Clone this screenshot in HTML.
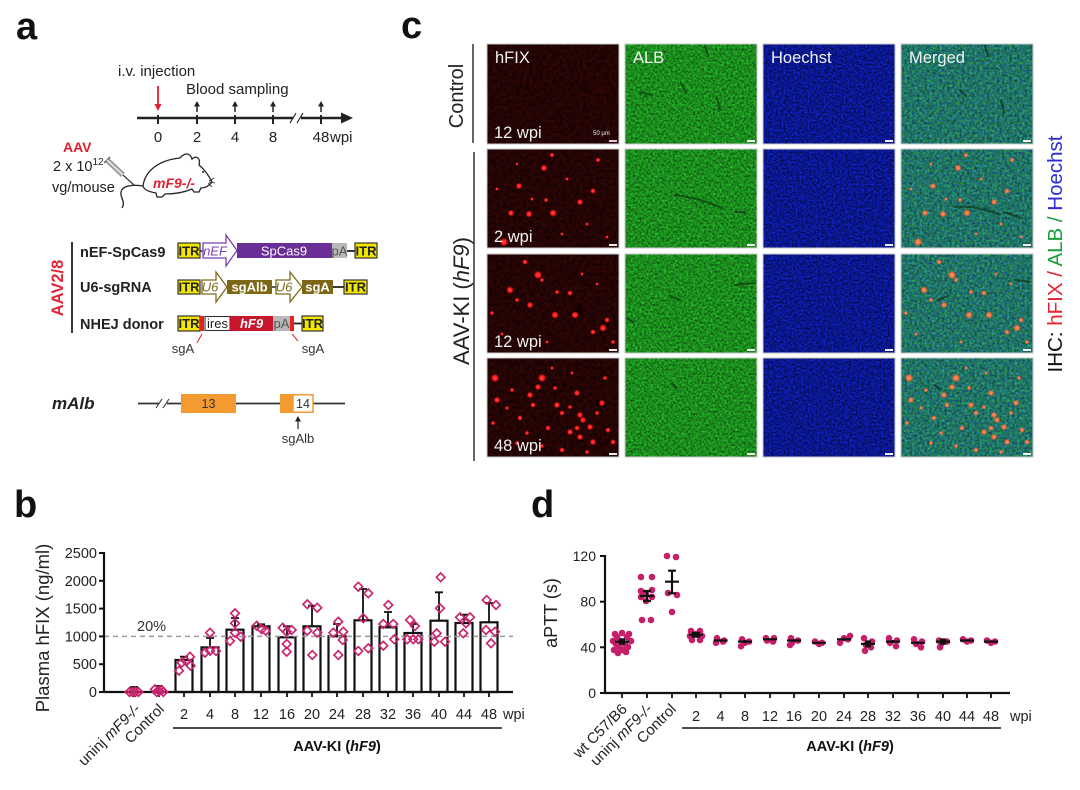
<!DOCTYPE html>
<html><head><meta charset="utf-8"><style>
html,body{margin:0;padding:0;background:#fff;}
svg{display:block;font-family:"Liberation Sans",Arial,sans-serif;}
</style></head><body>
<svg width="1080" height="790" viewBox="0 0 1080 790" xmlns="http://www.w3.org/2000/svg">
<defs>
<filter id="fR" x="0" y="0" width="1" height="1" color-interpolation-filters="sRGB">
<feTurbulence type="fractalNoise" baseFrequency="0.3" numOctaves="2" seed="5"/>
<feColorMatrix type="matrix" values="0.22 0 0 0 0.03  0.03 0 0 0 0  0.03 0 0 0 0  0 0 0 0 1"/>
</filter>
<filter id="fG" x="0" y="0" width="1" height="1" color-interpolation-filters="sRGB">
<feTurbulence type="fractalNoise" baseFrequency="0.45" numOctaves="2" seed="7"/>
<feColorMatrix type="matrix" values="0.15 0 0 0 0.03  0.75 0 0 0 0.17  0.15 0 0 0 0.04  0 0 0 0 1"/>
</filter>
<filter id="fB" x="0" y="0" width="1" height="1" color-interpolation-filters="sRGB">
<feTurbulence type="fractalNoise" baseFrequency="0.5" numOctaves="2" seed="11"/>
<feColorMatrix type="matrix" values="0.08 0 0 0 0  0.18 0 0 0 0  1.0 0 0 0 0.05  0 0 0 0 1"/>
</filter>
<filter id="fM" x="0" y="0" width="1" height="1" color-interpolation-filters="sRGB">
<feTurbulence type="fractalNoise" baseFrequency="0.4" numOctaves="2" seed="13"/>
<feColorMatrix type="matrix" values="0.15 0 0 0 0.05  0.65 0 0 0 0.13  0 0.7 0 0 0.05  0 0 0 0 1"/>
</filter>
<radialGradient id="rs"><stop offset="0" stop-color="#ff4a4a"/><stop offset="0.55" stop-color="#ff1a1a"/><stop offset="1" stop-color="#b00000" stop-opacity="0"/></radialGradient>
<radialGradient id="os"><stop offset="0" stop-color="#ff9a60"/><stop offset="0.55" stop-color="#ee6e40"/><stop offset="1" stop-color="#c05030" stop-opacity="0"/></radialGradient>
<g id="s2">
<circle cx="57" cy="19" r="3.6"/><circle cx="32" cy="37" r="3.4"/><circle cx="106" cy="42" r="3"/><circle cx="93" cy="53" r="3.4"/><circle cx="42" cy="65" r="3.6"/><circle cx="66" cy="64" r="3.9"/><circle cx="24" cy="64" r="3.4"/><circle cx="17" cy="93" r="4.4"/><circle cx="65" cy="6" r="2.6"/><circle cx="111" cy="11" r="2.6"/><circle cx="59" cy="51" r="2.4"/><circle cx="80" cy="30" r="2"/><circle cx="45" cy="50" r="2"/><circle cx="100" cy="75" r="2"/><circle cx="120" cy="88" r="1.9"/><circle cx="10" cy="40" r="1.9"/><circle cx="75" cy="85" r="1.9"/><circle cx="30" cy="15" r="1.8"/>
</g>
<g id="s12">
<circle cx="38" cy="8" r="2.9"/><circle cx="51" cy="21" r="4.4"/><circle cx="23" cy="36" r="3.9"/><circle cx="43" cy="51" r="3.4"/><circle cx="68" cy="61" r="3.9"/><circle cx="88" cy="61" r="3.9"/><circle cx="83" cy="39" r="2.9"/><circle cx="120" cy="66" r="2.9"/><circle cx="116" cy="74" r="3.9"/><circle cx="106" cy="78" r="2.9"/><circle cx="30" cy="46" r="2.4"/><circle cx="5" cy="59" r="2.4"/><circle cx="126" cy="88" r="2.4"/><circle cx="55" cy="26" r="2.4"/><circle cx="70" cy="38" r="2.4"/><circle cx="15" cy="80" r="2"/><circle cx="95" cy="20" r="1.9"/><circle cx="60" cy="88" r="1.9"/><circle cx="110" cy="30" r="1.9"/>
</g>
<g id="s48">
<circle cx="8" cy="20" r="4.4"/><circle cx="55" cy="20" r="4.4"/><circle cx="51" cy="29" r="3.4"/><circle cx="43" cy="37" r="3.4"/><circle cx="10" cy="42" r="3.4"/><circle cx="70" cy="47" r="3.4"/><circle cx="90" cy="35" r="3.4"/><circle cx="115" cy="45" r="3.4"/><circle cx="46" cy="47" r="2.9"/><circle cx="93" cy="57" r="3.4"/><circle cx="96" cy="62" r="3.4"/><circle cx="83" cy="74" r="3.4"/><circle cx="90" cy="70" r="2.9"/><circle cx="103" cy="69" r="3.4"/><circle cx="121" cy="72" r="2.9"/><circle cx="61" cy="70" r="2.9"/><circle cx="75" cy="55" r="2.9"/><circle cx="33" cy="60" r="2.9"/><circle cx="126" cy="84" r="2.9"/><circle cx="106" cy="84" r="3.4"/><circle cx="93" cy="79" r="3.4"/><circle cx="25" cy="32" r="2.4"/><circle cx="83" cy="49" r="2.4"/><circle cx="68" cy="30" r="2.4"/><circle cx="6" cy="65" r="2.4"/><circle cx="30" cy="85" r="2.4"/><circle cx="55" cy="88" r="2.4"/><circle cx="118" cy="20" r="2.4"/><circle cx="100" cy="94" r="2.4"/><circle cx="75" cy="92" r="2.9"/><circle cx="110" cy="55" r="2.4"/><circle cx="40" cy="75" r="2.4"/><circle cx="20" cy="50" r="2.2"/><circle cx="65" cy="10" r="2"/><circle cx="85" cy="15" r="2"/>
</g>
<path id="dm" d="M0,-4.3 L4.3,0 L0,4.3 L-4.3,0Z" fill="none" stroke="#c9266f" stroke-width="1.7"/>
</defs>
<rect width="1080" height="790" fill="#fff"/>

<!-- Panel letters -->
<g font-size="38" font-weight="bold" fill="#111">
<text x="16" y="39">a</text>
<text x="401" y="38">c</text>
<text x="14" y="517">b</text>
<text x="531" y="517">d</text>
</g>

<!-- ============ Panel a ============ -->
<g fill="#222" font-size="15">
<text x="118" y="76">i.v. injection</text>
<text x="186" y="94">Blood sampling</text>
</g>
<line x1="137" y1="118" x2="344" y2="118" stroke="#222" stroke-width="2.5"/>
<polygon points="353,118 341,112.5 341,123.5" fill="#222"/>
<rect x="293" y="112" width="8" height="12" fill="#fff"/>
<line x1="290" y1="123" x2="296" y2="113" stroke="#222" stroke-width="1.2"/>
<line x1="297" y1="123" x2="303" y2="113" stroke="#222" stroke-width="1.2"/>
<g stroke="#222" stroke-width="2">
<line x1="158" y1="115" x2="158" y2="124"/><line x1="197" y1="115" x2="197" y2="124"/><line x1="235" y1="115" x2="235" y2="124"/><line x1="273" y1="115" x2="273" y2="124"/><line x1="321" y1="115" x2="321" y2="124"/>
</g>
<g font-size="15" fill="#222" text-anchor="middle">
<text x="158" y="142">0</text><text x="197" y="142">2</text><text x="235" y="142">4</text><text x="273" y="142">8</text><text x="321" y="142">48</text>
</g>
<text x="330" y="142" font-size="15" fill="#222">wpi</text>
<g stroke="#222" stroke-width="1.5">
<line x1="197" y1="112" x2="197" y2="104"/><line x1="235" y1="112" x2="235" y2="104"/><line x1="273" y1="112" x2="273" y2="104"/><line x1="321" y1="112" x2="321" y2="104"/>
</g>
<g fill="#222">
<polygon points="197,101 194,106.5 200,106.5"/><polygon points="235,101 232,106.5 238,106.5"/><polygon points="273,101 270,106.5 276,106.5"/><polygon points="321,101 318,106.5 324,106.5"/>
</g>
<line x1="158" y1="86" x2="158" y2="105" stroke="#e0202e" stroke-width="1.8"/>
<polygon points="158,111 154.5,104 161.5,104" fill="#e0202e"/>

<text x="63" y="152" font-size="14" font-weight="bold" fill="#e0202e">AAV</text>
<text x="53" y="171" font-size="14.5" fill="#222">2 x 10<tspan font-size="10" dy="-6">12</tspan></text>
<text x="52" y="192" font-size="14.5" fill="#222">vg/mouse</text>
<!-- syringe -->
<line x1="107" y1="160" x2="123" y2="175" stroke="#999" stroke-width="5.5"/>
<line x1="104" y1="163" x2="110" y2="157" stroke="#666" stroke-width="1.5"/>
<line x1="107" y1="160" x2="123" y2="175" stroke="#ddd" stroke-width="2"/>
<line x1="123" y1="175" x2="134" y2="185" stroke="#333" stroke-width="1.2"/>
<!-- mouse -->
<path d="M143,186 C145,170 160,160 180,158 C185,152 190,153 192,159 C196,155 201,158 199,165 C205,170 209,176 212,182 C209,186 205,188 201,188 L199,192 L194,192 L192,189 C185,192 175,194 165,194 L162,197 L157,197 L156,193 C150,192 144,190 143,186 Z" fill="#fff" stroke="#222" stroke-width="1.3"/>
<path d="M143,186 C132,184 122,186 121,192 C120,198 126,202 122,208" fill="none" stroke="#222" stroke-width="1.3"/>
<circle cx="203" cy="172" r="1" fill="#222"/>
<g stroke="#222" stroke-width="0.8"><line x1="209" y1="181" x2="214" y2="178"/><line x1="209" y1="182" x2="215" y2="183"/><line x1="208" y1="183" x2="212" y2="187"/></g>
<text x="153" y="188" font-size="14" font-weight="bold" font-style="italic" fill="#e0202e">mF9-/-</text>

<!-- constructs -->
<line x1="72" y1="242" x2="72" y2="333" stroke="#222" stroke-width="1.8"/>
<text transform="translate(63,288) rotate(-90)" text-anchor="middle" font-size="16.5" font-weight="bold" fill="#e32636">AAV2/8</text>
<g font-size="14.5" font-weight="bold" fill="#222">
<text x="80" y="257">nEF-SpCas9</text>
<text x="80" y="292">U6-sgRNA</text>
<text x="80" y="329">NHEJ donor</text>
</g>
<!-- row1 -->
<line x1="200" y1="251" x2="204" y2="251" stroke="#222" stroke-width="1.5"/>
<line x1="347" y1="251" x2="356" y2="251" stroke="#222" stroke-width="1.8"/>
<rect x="178" y="243" width="22" height="15" fill="#f2e600" stroke="#333" stroke-width="1.2"/>
<polygon points="203,243 226,243 226,235 237,250.5 226,266 226,258 203,258" fill="#fff" stroke="#7b3fb0" stroke-width="1.3"/>
<rect x="237" y="243" width="95" height="15" fill="#6b2d96"/>
<rect x="332" y="243" width="15" height="15" fill="#b9b9b9"/>
<rect x="355" y="243" width="22" height="15" fill="#f2e600" stroke="#333" stroke-width="1.2"/>
<g font-size="13" text-anchor="middle">
<text x="189" y="255.5" font-weight="bold" fill="#222">ITR</text>
<text x="215" y="255.5" font-style="italic" fill="#7b3fb0">nEF</text>
<text x="284" y="255.5" fill="#fff">SpCas9</text>
<text x="339.5" y="255.5" fill="#555">pA</text>
<text x="366" y="255.5" font-weight="bold" fill="#222">ITR</text>
</g>
<!-- row2 -->
<line x1="272" y1="287" x2="276" y2="287" stroke="#222" stroke-width="1.5"/>
<line x1="333" y1="287" x2="344" y2="287" stroke="#222" stroke-width="1.8"/>
<rect x="178" y="280" width="22" height="14" fill="#f2e600" stroke="#333" stroke-width="1.2"/>
<polygon points="202,280 216,280 216,272 227,287 216,302 216,294 202,294" fill="#fff" stroke="#7d6a1c" stroke-width="1.3"/>
<rect x="227" y="280" width="45" height="14" fill="#7d6714"/>
<polygon points="276,280 290,280 290,272 302,287 290,302 290,294 276,294" fill="#fff" stroke="#7d6a1c" stroke-width="1.3"/>
<rect x="302" y="280" width="31" height="14" fill="#7d6714"/>
<rect x="344" y="280" width="23" height="14" fill="#f2e600" stroke="#333" stroke-width="1.2"/>
<g font-size="13" text-anchor="middle">
<text x="189" y="291.5" font-weight="bold" fill="#222">ITR</text>
<text x="210" y="291.5" font-style="italic" fill="#7d6a1c">U6</text>
<text x="249.5" y="291.5" font-weight="bold" fill="#fff">sgAlb</text>
<text x="284" y="291.5" font-style="italic" fill="#7d6a1c">U6</text>
<text x="317.5" y="291.5" font-weight="bold" fill="#fff">sgA</text>
<text x="355.5" y="291.5" font-weight="bold" fill="#222">ITR</text>
</g>
<!-- row3 -->
<line x1="294" y1="323.5" x2="302" y2="323.5" stroke="#222" stroke-width="1.8"/>
<rect x="178" y="316" width="22" height="15" fill="#f2e600" stroke="#333" stroke-width="1.2"/>
<rect x="200" y="316" width="4" height="15" fill="#e82020"/>
<rect x="205" y="316.5" width="25" height="14" fill="#fff" stroke="#333" stroke-width="1.1"/>
<rect x="230" y="316" width="43" height="15" fill="#c8162c"/>
<rect x="273" y="316" width="17" height="15" fill="#b9b9b9"/>
<rect x="290" y="316" width="4" height="15" fill="#e82020"/>
<rect x="302" y="316" width="21" height="15" fill="#f2e600" stroke="#333" stroke-width="1.2"/>
<g font-size="13" text-anchor="middle">
<text x="189" y="328" font-weight="bold" fill="#222">ITR</text>
<text x="217.5" y="328" fill="#222">ires</text>
<text x="251.5" y="328" font-weight="bold" font-style="italic" fill="#fff">hF9</text>
<text x="281.5" y="328" fill="#555">pA</text>
<text x="312.5" y="328" font-weight="bold" fill="#222">ITR</text>
</g>
<line x1="202" y1="334" x2="197" y2="343" stroke="#e0202e" stroke-width="1"/>
<line x1="292" y1="334" x2="298" y2="341" stroke="#e0202e" stroke-width="1"/>
<g font-size="13" fill="#333" text-anchor="middle">
<text x="183" y="353">sgA</text>
<text x="313" y="353">sgA</text>
</g>
<!-- mAlb -->
<text x="52" y="409" font-size="17" font-weight="bold" font-style="italic" fill="#222">mAlb</text>
<line x1="138" y1="403.5" x2="345" y2="403.5" stroke="#333" stroke-width="1.8"/>
<rect x="159" y="398" width="8" height="11" fill="#fff"/>
<line x1="156" y1="408" x2="162" y2="399" stroke="#333" stroke-width="1.1"/>
<line x1="163" y1="408" x2="169" y2="399" stroke="#333" stroke-width="1.1"/>
<rect x="181" y="394" width="55" height="19" fill="#f39a30"/>
<rect x="280" y="394" width="13" height="19" fill="#f39a30"/>
<rect x="293" y="394.75" width="20" height="17.5" fill="#fff" stroke="#f39a30" stroke-width="1.5"/>
<g font-size="12.5" fill="#333" text-anchor="middle">
<text x="208.5" y="408">13</text>
<text x="303" y="408">14</text>
<text x="298" y="443" font-size="13">sgAlb</text>
</g>
<line x1="298" y1="429" x2="298" y2="420" stroke="#222" stroke-width="1.2"/>
<polygon points="298,416 295,421.5 301,421.5" fill="#222"/>

<!-- ============ Panel c ============ -->
<rect x="487" y="44" width="132" height="100" filter="url(#fR)"/>
<rect x="625" y="44" width="132" height="100" filter="url(#fG)"/>
<rect x="763" y="44" width="132" height="100" filter="url(#fB)"/>
<rect x="901" y="44" width="132" height="100" filter="url(#fM)"/>
<rect x="487" y="149" width="132" height="99" filter="url(#fR)"/>
<rect x="625" y="149" width="132" height="99" filter="url(#fG)"/>
<rect x="763" y="149" width="132" height="99" filter="url(#fB)"/>
<rect x="901" y="149" width="132" height="99" filter="url(#fM)"/>
<rect x="487" y="254" width="132" height="99" filter="url(#fR)"/>
<rect x="625" y="254" width="132" height="99" filter="url(#fG)"/>
<rect x="763" y="254" width="132" height="99" filter="url(#fB)"/>
<rect x="901" y="254" width="132" height="99" filter="url(#fM)"/>
<rect x="487" y="358" width="132" height="99" filter="url(#fR)"/>
<rect x="625" y="358" width="132" height="99" filter="url(#fG)"/>
<rect x="763" y="358" width="132" height="99" filter="url(#fB)"/>
<rect x="901" y="358" width="132" height="99" filter="url(#fM)"/>
<!-- vessels -->
<g stroke="#0a200a" stroke-opacity="0.55" stroke-width="2" stroke-linecap="round" fill="none">
<path d="M705,46 L708,56"/><path d="M681,83 L686,92"/><path d="M717,98 L720,110"/><path d="M640,92 L652,95"/>
<path d="M675,195 Q700,198 722,208"/><path d="M735,212 L745,212"/>
<path d="M670,296 L680,300"/><path d="M735,285 L755,283"/><path d="M627,318 L633,322"/>
<path d="M672,384 L676,388"/>
<path d="M985,46 L988,56"/><path d="M960,90 L966,96"/><path d="M1001,100 L1004,112"/>
<path d="M955,207 Q975,205 1000,215"/><path d="M1005,212 L1020,218"/>
<path d="M938,300 L948,296"/><path d="M1015,280 L1030,282"/>
<path d="M935,385 L940,390"/>
</g>
<polygon points="574,312 580,302 584,316" fill="#150000"/>
<!-- spots -->
<use href="#s2" x="487" y="149" fill="url(#rs)"/>
<use href="#s12" x="487" y="254" fill="url(#rs)"/>
<use href="#s48" x="487" y="358" fill="url(#rs)"/>
<use href="#s2" x="901" y="149" fill="url(#os)"/>
<use href="#s12" x="901" y="254" fill="url(#os)"/>
<use href="#s48" x="901" y="358" fill="url(#os)"/>
<!-- borders -->
<g fill="none" stroke="#c8c8c8" stroke-width="1">
<rect x="487" y="44" width="132" height="100"/><rect x="625" y="44" width="132" height="100"/><rect x="763" y="44" width="132" height="100"/><rect x="901" y="44" width="132" height="100"/>
<rect x="487" y="149" width="132" height="99"/><rect x="625" y="149" width="132" height="99"/><rect x="763" y="149" width="132" height="99"/><rect x="901" y="149" width="132" height="99"/>
<rect x="487" y="254" width="132" height="99"/><rect x="625" y="254" width="132" height="99"/><rect x="763" y="254" width="132" height="99"/><rect x="901" y="254" width="132" height="99"/>
<rect x="487" y="358" width="132" height="99"/><rect x="625" y="358" width="132" height="99"/><rect x="763" y="358" width="132" height="99"/><rect x="901" y="358" width="132" height="99"/>
</g>
<!-- scale bars -->
<g fill="#eee">
<rect x="609" y="140" width="8" height="2" fill="#f4c0e0"/><rect x="747" y="140" width="8" height="2"/><rect x="885" y="140" width="8" height="2"/><rect x="1023" y="140" width="8" height="2"/>
<rect x="609" y="244" width="8" height="2"/><rect x="747" y="244" width="8" height="2"/><rect x="885" y="244" width="8" height="2"/><rect x="1023" y="244" width="8" height="2"/>
<rect x="609" y="349" width="8" height="2"/><rect x="747" y="349" width="8" height="2"/><rect x="885" y="349" width="8" height="2"/><rect x="1023" y="349" width="8" height="2"/>
<rect x="609" y="453" width="8" height="2"/><rect x="747" y="453" width="8" height="2"/><rect x="885" y="453" width="8" height="2"/><rect x="1023" y="453" width="8" height="2"/>
</g>
<text x="593" y="135" font-size="6" fill="#eee">50 μm</text>
<g font-size="16.5" fill="#f2f2f2">
<text x="495" y="63">hFIX</text>
<text x="633" y="63">ALB</text>
<text x="771" y="63">Hoechst</text>
<text x="909" y="63">Merged</text>
<text x="494" y="138">12 wpi</text>
<text x="494" y="242">2 wpi</text>
<text x="494" y="347">12 wpi</text>
<text x="494" y="451">48 wpi</text>
</g>
<line x1="473" y1="44" x2="473" y2="143" stroke="#333" stroke-width="1.5"/>
<line x1="474" y1="152" x2="474" y2="461" stroke="#333" stroke-width="1.5"/>
<text transform="translate(463,96) rotate(-90)" text-anchor="middle" font-size="20" fill="#222">Control</text>
<text transform="translate(469,301) rotate(-90)" text-anchor="middle" font-size="22" fill="#222">AAV-KI (<tspan font-style="italic">hF9</tspan>)</text>
<text transform="translate(1062,254) rotate(-90)" text-anchor="middle" font-size="20.5"><tspan fill="#111">IHC: </tspan><tspan fill="#e62430">hFIX / </tspan><tspan fill="#1f9e3a">ALB / </tspan><tspan fill="#2b2bd8">Hoechst</tspan></text>

<!-- ============ Panel b ============ -->
<text transform="translate(49,628) rotate(-90)" text-anchor="middle" font-size="18.5" fill="#222">Plasma hFIX (ng/ml)</text>
<g font-size="14.5" fill="#222" text-anchor="end">
<text x="97" y="697">0</text><text x="97" y="669.2">500</text><text x="97" y="641.4">1000</text><text x="97" y="613.6">1500</text><text x="97" y="585.8">2000</text><text x="97" y="558">2500</text>
</g>
<g stroke="#111" stroke-width="2">
<line x1="99" y1="692" x2="104" y2="692"/><line x1="99" y1="664.2" x2="104" y2="664.2"/><line x1="99" y1="636.4" x2="104" y2="636.4"/><line x1="99" y1="608.6" x2="104" y2="608.6"/><line x1="99" y1="580.8" x2="104" y2="580.8"/><line x1="99" y1="553" x2="104" y2="553"/>
</g>
<g fill="#fff" stroke="#111" stroke-width="2.2">
<rect x="175.5" y="660" width="17" height="32"/>
<rect x="201.5" y="647.4" width="17" height="44.6"/>
<rect x="226.5" y="629.7" width="17" height="62.3"/>
<rect x="252.5" y="626.3" width="17" height="65.7"/>
<rect x="278.5" y="637.3" width="17" height="54.7"/>
<rect x="303.5" y="626.3" width="17" height="65.7"/>
<rect x="328.5" y="636.3" width="17" height="55.7"/>
<rect x="354.5" y="620.3" width="17" height="71.7"/>
<rect x="379.5" y="627.3" width="17" height="64.7"/>
<rect x="404.5" y="633" width="17" height="59"/>
<rect x="430.5" y="620.7" width="17" height="71.3"/>
<rect x="455.5" y="623" width="17" height="69"/>
<rect x="480.5" y="622.3" width="17" height="69.7"/>
</g>
<g stroke="#111" stroke-width="1.8">
<path d="M184,660 V656.6 M180,656.6 H188"/>
<path d="M210,647.4 V638 M206,638 H214"/>
<path d="M235,629.7 V618 M231,618 H239"/>
<path d="M261,626.3 V624.3 M257,624.3 H265"/>
<path d="M287,637.3 V626.3 M283,626.3 H291"/>
<path d="M312,626.3 V605.7 M308,605.7 H316"/>
<path d="M337,636.3 V624 M333,624 H341"/>
<path d="M363,620.3 V589 M359,589 H367"/>
<path d="M388,627.3 V612 M384,612 H392"/>
<path d="M413,633 V624 M409,624 H417"/>
<path d="M439,620.7 V592.3 M435,592.3 H443"/>
<path d="M464,623 V614.7 M460,614.7 H468"/>
<path d="M489,622.3 V603 M485,603 H493"/>
<path d="M134,692 V687 M130,687 H138"/>
<path d="M159,692 V686 M155,686 H163"/>
</g>
<line x1="104" y1="636.4" x2="513" y2="636.4" stroke="#9a9a9a" stroke-width="1.5" stroke-dasharray="5,4"/>
<text x="137" y="631" font-size="14.5" fill="#333">20%</text>
<line x1="104" y1="552" x2="104" y2="693" stroke="#111" stroke-width="2.2"/>
<line x1="103" y1="692" x2="513" y2="692" stroke="#111" stroke-width="2.2"/>
<g stroke="#111" stroke-width="1.8">
<path d="M134,692V697 M159,692V697 M184,692V697 M210,692V697 M235,692V697 M261,692V697 M287,692V697 M312,692V697 M337,692V697 M363,692V697 M388,692V697 M413,692V697 M439,692V697 M464,692V697 M489,692V697"/>
</g>
<g>
<use href="#dm" x="129.5" y="692"/><use href="#dm" x="132.5" y="692"/><use href="#dm" x="135.5" y="692"/><use href="#dm" x="138.5" y="692"/>
<use href="#dm" x="155" y="689.3"/><use href="#dm" x="159.3" y="691"/><use href="#dm" x="163.3" y="692"/><use href="#dm" x="156.7" y="692"/><use href="#dm" x="161.7" y="690"/>
<use href="#dm" x="179" y="670.7"/><use href="#dm" x="181.7" y="662.7"/><use href="#dm" x="186" y="661"/><use href="#dm" x="190" y="656.7"/><use href="#dm" x="190.7" y="665.7"/>
<use href="#dm" x="210" y="632.7"/><use href="#dm" x="205" y="652.7"/><use href="#dm" x="210" y="650.7"/><use href="#dm" x="216" y="651"/>
<use href="#dm" x="235" y="613.3"/><use href="#dm" x="235" y="623.3"/><use href="#dm" x="230" y="641"/><use href="#dm" x="235" y="632.7"/><use href="#dm" x="240.7" y="636.7"/>
<use href="#dm" x="256.7" y="625.7"/><use href="#dm" x="261.7" y="629.3"/><use href="#dm" x="265.7" y="630.7"/>
<use href="#dm" x="282.7" y="627.7"/><use href="#dm" x="286.7" y="631.7"/><use href="#dm" x="291.7" y="630"/><use href="#dm" x="286.7" y="644"/><use href="#dm" x="286.7" y="651.7"/>
<use href="#dm" x="307.3" y="604.3"/><use href="#dm" x="317.3" y="607.7"/><use href="#dm" x="307.3" y="630.7"/><use href="#dm" x="317.3" y="632.7"/><use href="#dm" x="312.3" y="655"/>
<use href="#dm" x="338.3" y="621.7"/><use href="#dm" x="333.3" y="632.7"/><use href="#dm" x="343.3" y="631.7"/><use href="#dm" x="342.7" y="640"/><use href="#dm" x="338.3" y="655"/>
<use href="#dm" x="358.3" y="586.7"/><use href="#dm" x="368.3" y="593.3"/><use href="#dm" x="363.3" y="618.3"/><use href="#dm" x="358.3" y="651"/><use href="#dm" x="368.3" y="648.3"/>
<use href="#dm" x="388.3" y="605"/><use href="#dm" x="383.3" y="624"/><use href="#dm" x="393.3" y="624"/><use href="#dm" x="394.3" y="639.3"/><use href="#dm" x="383.3" y="645.7"/>
<use href="#dm" x="410" y="620"/><use href="#dm" x="407.3" y="639.3"/><use href="#dm" x="413.3" y="639.3"/><use href="#dm" x="418.3" y="639.3"/><use href="#dm" x="415" y="626"/>
<use href="#dm" x="440.7" y="577.3"/><use href="#dm" x="440" y="608.3"/><use href="#dm" x="436.7" y="633.3"/><use href="#dm" x="434.3" y="641.7"/><use href="#dm" x="445" y="641.7"/>
<use href="#dm" x="460" y="617.3"/><use href="#dm" x="470" y="617.3"/><use href="#dm" x="466" y="623.3"/><use href="#dm" x="463.3" y="633.3"/>
<use href="#dm" x="486.7" y="600"/><use href="#dm" x="496" y="605"/><use href="#dm" x="486" y="630"/><use href="#dm" x="495" y="631.7"/><use href="#dm" x="491" y="643.3"/>
</g>
<g font-size="14.5" fill="#222" text-anchor="middle">
<text x="184" y="719">2</text><text x="210" y="719">4</text><text x="235" y="719">8</text><text x="261" y="719">12</text><text x="287" y="719">16</text><text x="312" y="719">20</text><text x="337" y="719">24</text><text x="363" y="719">28</text><text x="388" y="719">32</text><text x="413" y="719">36</text><text x="439" y="719">40</text><text x="464" y="719">44</text><text x="489" y="719">48</text>
</g>
<text x="503" y="719" font-size="14.5" fill="#222">wpi</text>
<g font-size="15" fill="#222" text-anchor="end">
<text transform="translate(141,710) rotate(-45)">uninj <tspan font-style="italic">mF9-/-</tspan></text>
<text transform="translate(165,710) rotate(-45)">Control</text>
</g>
<line x1="173" y1="728" x2="502" y2="728" stroke="#111" stroke-width="1.5"/>
<text x="337" y="751" font-size="14.5" font-weight="bold" fill="#111" text-anchor="middle">AAV-KI (<tspan font-style="italic">hF9</tspan>)</text>

<!-- ============ Panel d ============ -->
<text transform="translate(557,613) rotate(-90)" text-anchor="middle" font-size="18" fill="#222">aPTT (s)</text>
<g font-size="14" fill="#222" text-anchor="end">
<text x="596" y="698">0</text><text x="596" y="652.3">40</text><text x="596" y="606.7">80</text><text x="596" y="561">120</text>
</g>
<g stroke="#111" stroke-width="2">
<line x1="600" y1="693" x2="605" y2="693"/><line x1="600" y1="647.3" x2="605" y2="647.3"/><line x1="600" y1="601.7" x2="605" y2="601.7"/><line x1="600" y1="556" x2="605" y2="556"/>
</g>
<line x1="605" y1="555" x2="605" y2="694" stroke="#111" stroke-width="2.2"/>
<line x1="604" y1="693" x2="1010" y2="693" stroke="#111" stroke-width="2.2"/>
<g stroke="#111" stroke-width="1.8">
<path d="M622,693V698 M647,693V698 M672,693V698 M696,693V698 M720.6,693V698 M745,693V698 M770,693V698 M794,693V698 M819,693V698 M844,693V698 M868,693V698 M893,693V698 M918,693V698 M943,693V698 M967,693V698 M991,693V698"/>
</g>
<g fill="#c51f6a">
<circle cx="615" cy="634" r="3.3"/><circle cx="622" cy="633" r="3.3"/><circle cx="629" cy="634" r="3.3"/><circle cx="617" cy="637" r="3.3"/><circle cx="627" cy="637" r="3.3"/><circle cx="613" cy="641" r="3.3"/><circle cx="620" cy="641" r="3.3"/><circle cx="631" cy="641" r="3.3"/><circle cx="616" cy="644" r="3.3"/><circle cx="625" cy="644" r="3.3"/><circle cx="619" cy="647" r="3.3"/><circle cx="628" cy="647" r="3.3"/><circle cx="614" cy="650" r="3.3"/><circle cx="623" cy="650" r="3.3"/><circle cx="618" cy="653" r="3.3"/><circle cx="626" cy="652" r="3.3"/>
<circle cx="641" cy="577" r="3.3"/><circle cx="652" cy="577" r="3.3"/><circle cx="641" cy="591" r="3.3"/><circle cx="652" cy="590" r="3.3"/><circle cx="641" cy="597" r="3.3"/><circle cx="652" cy="597" r="3.3"/><circle cx="646" cy="594" r="3.3"/><circle cx="642" cy="620" r="3.3"/><circle cx="651" cy="620" r="3.3"/><circle cx="646" cy="601" r="3.3"/>
<circle cx="667" cy="556" r="3.3"/><circle cx="676" cy="557" r="3.3"/><circle cx="668" cy="593" r="3.3"/><circle cx="677" cy="595" r="3.3"/><circle cx="672" cy="612" r="3.3"/>
<circle cx="691" cy="631" r="3.3"/><circle cx="700" cy="631" r="3.3"/><circle cx="690" cy="636" r="3.3"/><circle cx="696" cy="634" r="3.3"/><circle cx="702" cy="636" r="3.3"/><circle cx="692" cy="640" r="3.3"/><circle cx="700" cy="640" r="3.3"/>
<circle cx="717" cy="638.2" r="3.3"/><circle cx="724" cy="640.5" r="3.3"/><circle cx="716" cy="642.8" r="3.3"/><circle cx="723" cy="641.6" r="3.3"/>
<circle cx="742" cy="639.3" r="3.3"/><circle cx="749" cy="641.6" r="3.3"/><circle cx="745" cy="642.8" r="3.3"/><circle cx="741" cy="646.2" r="3.3"/>
<circle cx="766" cy="638.2" r="3.3"/><circle cx="774" cy="638.2" r="3.3"/><circle cx="767" cy="640.5" r="3.3"/><circle cx="773" cy="641.6" r="3.3"/>
<circle cx="791" cy="638.2" r="3.3"/><circle cx="798" cy="640.5" r="3.3"/><circle cx="792" cy="642.8" r="3.3"/><circle cx="790" cy="645" r="3.3"/>
<circle cx="815" cy="641.6" r="3.3"/><circle cx="822" cy="642.8" r="3.3"/><circle cx="819" cy="643.9" r="3.3"/>
<circle cx="840" cy="642.8" r="3.3"/><circle cx="848" cy="639.3" r="3.3"/><circle cx="844" cy="638.2" r="3.3"/><circle cx="850" cy="635.9" r="3.3"/>
<circle cx="864" cy="638.2" r="3.3"/><circle cx="872" cy="641.6" r="3.3"/><circle cx="866" cy="645" r="3.3"/><circle cx="871" cy="647.3" r="3.3"/><circle cx="865" cy="650.8" r="3.3"/>
<circle cx="889" cy="638.2" r="3.3"/><circle cx="897" cy="640.5" r="3.3"/><circle cx="890" cy="642.8" r="3.3"/><circle cx="896" cy="646.2" r="3.3"/>
<circle cx="914" cy="639.3" r="3.3"/><circle cx="922" cy="641.6" r="3.3"/><circle cx="916" cy="643.9" r="3.3"/><circle cx="921" cy="647.3" r="3.3"/>
<circle cx="939" cy="640.5" r="3.3"/><circle cx="947" cy="641.6" r="3.3"/><circle cx="941" cy="643.9" r="3.3"/><circle cx="940" cy="647.3" r="3.3"/>
<circle cx="963" cy="639.3" r="3.3"/><circle cx="971" cy="640.5" r="3.3"/><circle cx="967" cy="641.6" r="3.3"/>
<circle cx="987" cy="640.5" r="3.3"/><circle cx="995" cy="641.6" r="3.3"/><circle cx="991" cy="642.8" r="3.3"/>
</g>
<g stroke="#111" stroke-width="2.2" fill="none">
<path d="M615,641.6H629 M622,639.5V643.7 M619,639.5H625 M619,643.7H625"/>
<path d="M640,596H654 M647,591V601 M643,591H651 M643,601H651"/>
<path d="M665,581.7H679 M672,570.7V593.3 M668,570.7H676 M668,593.3H676"/>
<path d="M689,634.8H703 M696,633V636.6 M692,633H700 M692,636.6H700"/>
<path d="M713.6,640.5H727.6 M720.6,639.3V641.7"/>
<path d="M738,641.6H752 M745,640V643.2"/>
<path d="M763,639.3H777 M770,638.5V640.1"/>
<path d="M787,640.5H801 M794,639V642"/>
<path d="M812,642.8H826 M819,642V643.6"/>
<path d="M837,639.3H851 M844,637.8V640.8"/>
<path d="M861,643.9H875 M868,641.5V646.3 M865,641.5H871 M865,646.3H871"/>
<path d="M886,641.6H900 M893,640V643.2"/>
<path d="M911,642.8H925 M918,641.2V644.4"/>
<path d="M936,641.6H950 M943,639.5V643.7 M940,639.5H946 M940,643.7H946"/>
<path d="M960,640.5H974 M967,639.8V641.2"/>
<path d="M984,641.6H998 M991,640.9V642.3"/>
</g>
<g font-size="14.5" fill="#222" text-anchor="middle">
<text x="696" y="721">2</text><text x="720.6" y="721">4</text><text x="745" y="721">8</text><text x="770" y="721">12</text><text x="794" y="721">16</text><text x="819" y="721">20</text><text x="844" y="721">24</text><text x="868" y="721">28</text><text x="893" y="721">32</text><text x="918" y="721">36</text><text x="943" y="721">40</text><text x="967" y="721">44</text><text x="991" y="721">48</text>
</g>
<text x="1010" y="721" font-size="14.5" fill="#222">wpi</text>
<g font-size="15" fill="#222" text-anchor="end">
<text transform="translate(628,710) rotate(-45)">wt C57/B6</text>
<text transform="translate(653,710) rotate(-45)">uninj <tspan font-style="italic">mF9-/-</tspan></text>
<text transform="translate(677,710) rotate(-45)">Control</text>
</g>
<line x1="682" y1="728" x2="1001" y2="728" stroke="#111" stroke-width="1.5"/>
<text x="850" y="751" font-size="14.5" font-weight="bold" fill="#111" text-anchor="middle">AAV-KI (<tspan font-style="italic">hF9</tspan>)</text>
</svg>
</body></html>
